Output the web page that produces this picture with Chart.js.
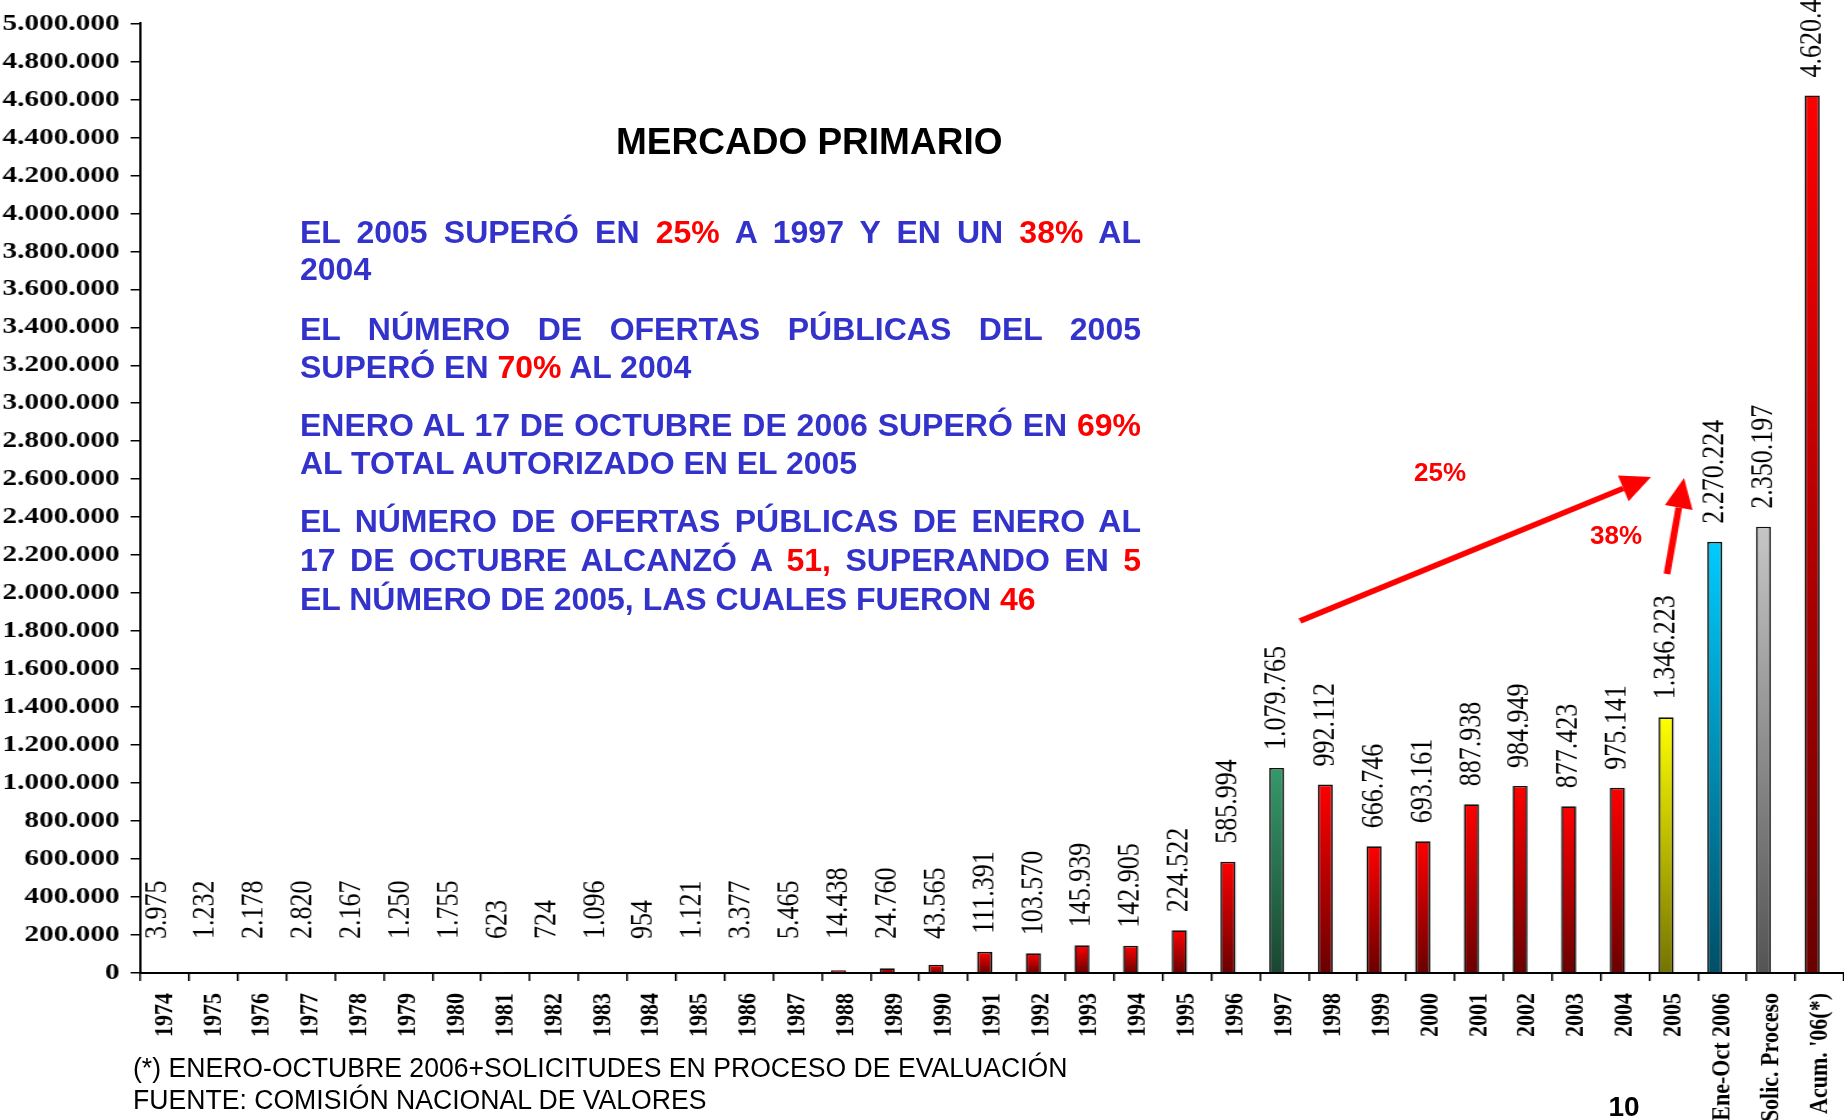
<!DOCTYPE html>
<html>
<head>
<meta charset="utf-8">
<script src="https://cdn.jsdelivr.net/npm/chart.js@4.4.0/dist/chart.umd.min.js"></script>
<style>
  html, body { margin: 0; padding: 0; background: #fff; }
  #wrap { position: relative; width: 1844px; height: 1120px; overflow: hidden; }
  #chart { position: absolute; left: 0; top: 0; }
  .txt { position: absolute; font-family: "Liberation Sans", Arial, sans-serif; white-space: nowrap; }
  .title { left: 616px; top: 120px; font-size: 37px; line-height: 44px; font-weight: bold; color: #000; }
  .blue { left: 300px; width: 841px; font-size: 32px; line-height: 38px; font-weight: bold; color: #3333cc; }
  .blue.j { text-align: justify; text-align-last: justify; }
  .red { color: #ff0000; }
  .pct { font-size: 26px; font-weight: bold; color: #ff0000; transform: translate(-50%, -50%); }
  .foot { left: 133px; font-size: 27px; line-height: 32px; color: #000; transform-origin: 0 50%; }
  .page { left: 1624px; top: 1107px; font-size: 28px; font-weight: bold; transform: translate(-50%, -50%); }
</style>
</head>
<body>
<div id="wrap">
  <canvas id="chart" width="1511" height="1120" style="width:1844px;height:1120px"></canvas>

  <div class="txt title">MERCADO PRIMARIO</div>

  <div class="txt blue j" style="top:213px">EL 2005 SUPERÓ EN <span class="red">25%</span> A 1997 Y EN UN <span class="red">38%</span> AL</div>
  <div class="txt blue" style="top:250px">2004</div>
  <div class="txt blue j" style="top:310px">EL NÚMERO DE OFERTAS PÚBLICAS DEL 2005</div>
  <div class="txt blue" style="top:348px">SUPERÓ EN <span class="red">70%</span> AL 2004</div>
  <div class="txt blue j" style="top:406px">ENERO AL 17 DE OCTUBRE DE 2006 SUPERÓ EN <span class="red">69%</span></div>
  <div class="txt blue" style="top:444px">AL TOTAL AUTORIZADO EN EL 2005</div>
  <div class="txt blue j" style="top:502px">EL NÚMERO DE OFERTAS PÚBLICAS DE ENERO AL</div>
  <div class="txt blue j" style="top:541px">17 DE OCTUBRE ALCANZÓ A <span class="red">51,</span> SUPERANDO EN <span class="red">5</span></div>
  <div class="txt blue" style="top:580px">EL NÚMERO DE 2005, LAS CUALES FUERON <span class="red">46</span></div>

  <div class="txt pct" style="left:1440px;top:472px">25%</div>
  <div class="txt pct" style="left:1616px;top:535px">38%</div>

  <div class="txt foot" id="foot1" style="top:1052px">(*) ENERO-OCTUBRE 2006+SOLICITUDES EN PROCESO DE EVALUACIÓN</div>
  <div class="txt foot" id="foot2" style="top:1084px">FUENTE: COMISIÓN NACIONAL DE VALORES</div>
  <div class="txt page">10</div>
</div>

<script>
// categories and values (miles de pesos)
const years = ['1974', '1975', '1976', '1977', '1978', '1979', '1980', '1981', '1982', '1983',
  '1984', '1985', '1986', '1987', '1988', '1989', '1990', '1991', '1992', '1993',
  '1994', '1995', '1996', '1997', '1998', '1999', '2000', '2001', '2002', '2003',
  '2004', '2005', 'Ene-Oct 2006', 'Solic. Proceso', "Acum. '06(*)"];
const amounts = [3975, 1232, 2178, 2820, 2167, 1250, 1755, 623, 724, 1096,
  954, 1121, 3377, 5465, 14438, 24760, 43565, 111391, 103570, 145939,
  142905, 224522, 585994, 1079765, 992112, 666746, 693161, 887938, 984949, 877423,
  975141, 1346223, 2270224, 2350197, 4620421];
const yMax = 5000000;
const yStep = 200000;

// the original slide stretches the chart picture sideways
const S = 1844 / 1511;

const redShade = ['#ff0000', '#6a0000'];
const barShades = {
  '1997': ['#35996a', '#1a4631'],
  '2005': ['#ffff00', '#747400'],
  'Ene-Oct 2006': ['#00ccff', '#004f68'],
  'Solic. Proceso': ['#c6c6c6', '#545454']
};

function fmt(v) {
  return String(v).replace(/\B(?=(\d{3})+(?!\d))/g, '.');
}

function barFill(ctx) {
  const shade = barShades[years[ctx.dataIndex]] || redShade;
  const chart = ctx.chart;
  if (!chart.chartArea || ctx.type !== 'data') return shade[0];
  const y = chart.scales.y;
  const top = y.getPixelForValue(ctx.raw);
  const bottom = y.getPixelForValue(0);
  if (!(bottom - top > 0.5)) return shade[1];
  const g = chart.ctx.createLinearGradient(0, top, 0, bottom);
  g.addColorStop(0, shade[0]);
  g.addColorStop(1, shade[1]);
  return g;
}

// rotated value labels above each bar
const valueLabels = {
  id: 'valueLabels',
  afterDatasetsDraw(chart) {
    const ctx = chart.ctx;
    const meta = chart.getDatasetMeta(0);
    const zero = chart.scales.y.getPixelForValue(0);
    ctx.save();
    ctx.font = '26px "Liberation Serif", "Times New Roman", serif';
    ctx.fillStyle = '#000';
    ctx.textAlign = 'left';
    ctx.textBaseline = 'middle';
    meta.data.forEach((bar, i) => {
      const start = Math.min(bar.y - 18, zero - 34);
      ctx.save();
      ctx.translate(bar.x, start);
      ctx.rotate(-Math.PI / 2);
      ctx.fillText(fmt(amounts[i]), 0, 0);
      ctx.restore();
    });
    ctx.restore();
  }
};

// red growth arrows (page coordinates)
function drawArrow(ctx, x1, y1, x2, y2) {
  const a = Math.atan2(y2 - y1, x2 - x1);
  const head = 30, half = 14;
  const bx = x2 - head * Math.cos(a), by = y2 - head * Math.sin(a);
  ctx.beginPath();
  ctx.moveTo(x1 / S, y1);
  ctx.lineTo(bx / S, by);
  ctx.stroke();
  ctx.beginPath();
  ctx.moveTo(x2 / S, y2);
  ctx.lineTo((bx + half * Math.sin(a)) / S, by - half * Math.cos(a));
  ctx.lineTo((bx - half * Math.sin(a)) / S, by + half * Math.cos(a));
  ctx.closePath();
  ctx.fill();
}

const arrows = {
  id: 'arrows',
  afterDraw(chart) {
    const ctx = chart.ctx;
    ctx.save();
    ctx.strokeStyle = '#ff0000';
    ctx.fillStyle = '#ff0000';
    ctx.lineWidth = 5.5;
    drawArrow(ctx, 1300, 621, 1651, 477);
    drawArrow(ctx, 1667, 574, 1684, 478);
    ctx.restore();
  }
};

new Chart(document.getElementById('chart'), {
  type: 'bar',
  data: {
    labels: years,
    datasets: [{
      label: 'Montos autorizados',
      data: amounts,
      backgroundColor: barFill,
      borderColor: '#111',
      borderWidth: 1.6,
      categoryPercentage: 0.62,
      barPercentage: 1
    }, {
      label: '',
      data: years.map(() => null),
      categoryPercentage: 0.62,
      barPercentage: 1
    }]
  },
  options: {
    responsive: false,
    animation: false,
    devicePixelRatio: 1,
    layout: { padding: { top: 20, left: 0, right: 0, bottom: 0 } },
    plugins: {
      legend: { display: false },
      tooltip: { enabled: false },
      title: { display: false }
    },
    scales: {
      x: {
        afterFit: s => { s.height = 147; s.paddingLeft = 0; s.paddingRight = 0; },
        border: { color: '#000', width: 2 },
        grid: { drawOnChartArea: false, drawTicks: true, tickLength: 8, color: '#000', lineWidth: 1.5 },
        ticks: {
          autoSkip: false,
          maxRotation: 90,
          minRotation: 90,
          padding: 12,
          color: '#000',
          font: { family: '"Liberation Serif", "Times New Roman", serif', size: 22, weight: 'bold' }
        }
      },
      y: {
        min: 0,
        max: yMax,
        afterFit: s => { s.width = 115; },
        border: { color: '#000', width: 2 },
        grid: { drawOnChartArea: false, drawTicks: true, tickLength: 8, color: '#000', lineWidth: 1.5 },
        ticks: {
          stepSize: yStep,
          padding: 9,
          color: '#000',
          font: { family: '"Liberation Serif", "Times New Roman", serif', size: 24, weight: 'bold' },
          callback: v => fmt(v)
        }
      }
    }
  },
  plugins: [valueLabels, arrows]
});

// fit the footnote to the width it has on the slide
const f1 = document.getElementById('foot1');
const f2 = document.getElementById('foot2');
const k = 934 / f1.offsetWidth;
f1.style.transform = 'scaleX(' + k + ')';
f2.style.transform = 'scaleX(' + k + ')';
</script>
</body>
</html>
